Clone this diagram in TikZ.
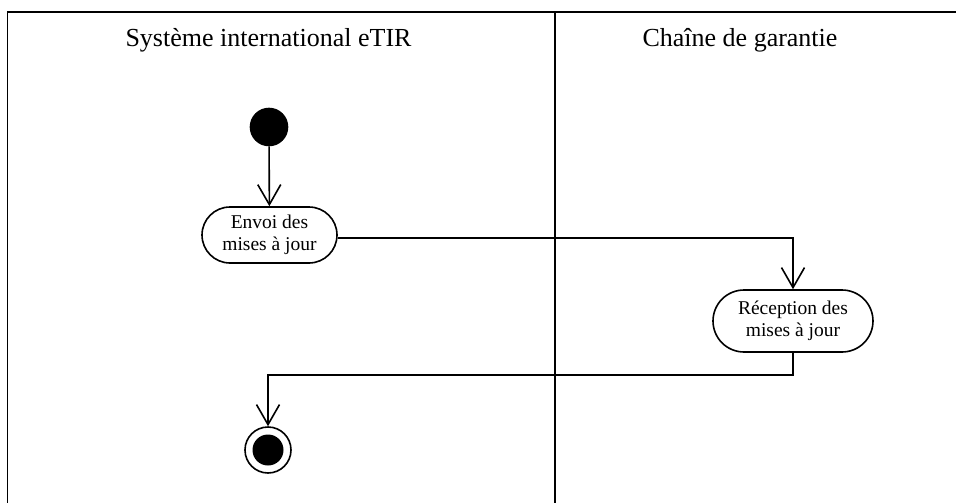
\documentclass[tikz,border=0pt]{standalone}
\usepackage{fontspec}
\setmainfont{Liberation Serif}
\usetikzlibrary{arrows.meta,shapes.misc}
\begin{document}
\begin{tikzpicture}[x=1pt,y=-1pt,line width=1.6pt,
  activity/.style={draw,rounded rectangle,align=center,inner sep=0pt,font=\fontsize{19.5}{22}\selectfont},
  title/.style={font=\fontsize{26}{28}\selectfont},
  flow/.style={-{Straight Barb[length=20pt,width=23pt,line width=1.6pt]}}]
\useasboundingbox (0,0) rectangle (956,503);
% swimlanes
\coordinate (tl) at (7.5,12);
\coordinate (tr) at (956,12);
\coordinate (bl) at (7.5,503);
\coordinate (dt) at (555,12);
\coordinate (db) at (555,503);
\draw (bl) -- (tl) -- (tr);
\draw (dt) -- (db);
\node[title] (t1) at (268.5,40) {Système international eTIR};
\node[title] (t2) at (740,40) {Chaîne de garantie};
% nodes
\node[circle,fill=black,draw,minimum size=37pt,inner sep=0pt] (start) at (269,127) {};
\node[activity,minimum width=135pt,minimum height=56pt] (envoi) at (269.5,235) {Envoi des\\mises à jour};
\node[activity,minimum width=160pt,minimum height=62pt] (recep) at (793,321) {Réception des\\mises à jour};
\node[circle,draw,minimum size=46pt,inner sep=0pt] (end) at (268,450) {};
\node[circle,fill=black,minimum size=31pt,inner sep=0pt] (endin) at (end.center) {};
% flows
\draw[flow] (start) -- (envoi);
\draw[flow] (envoi.east |- 0,238) -| (recep.north);
\draw[flow] (recep.south) -- ++(0,22) -| (end.north);
\end{tikzpicture}
\end{document}
